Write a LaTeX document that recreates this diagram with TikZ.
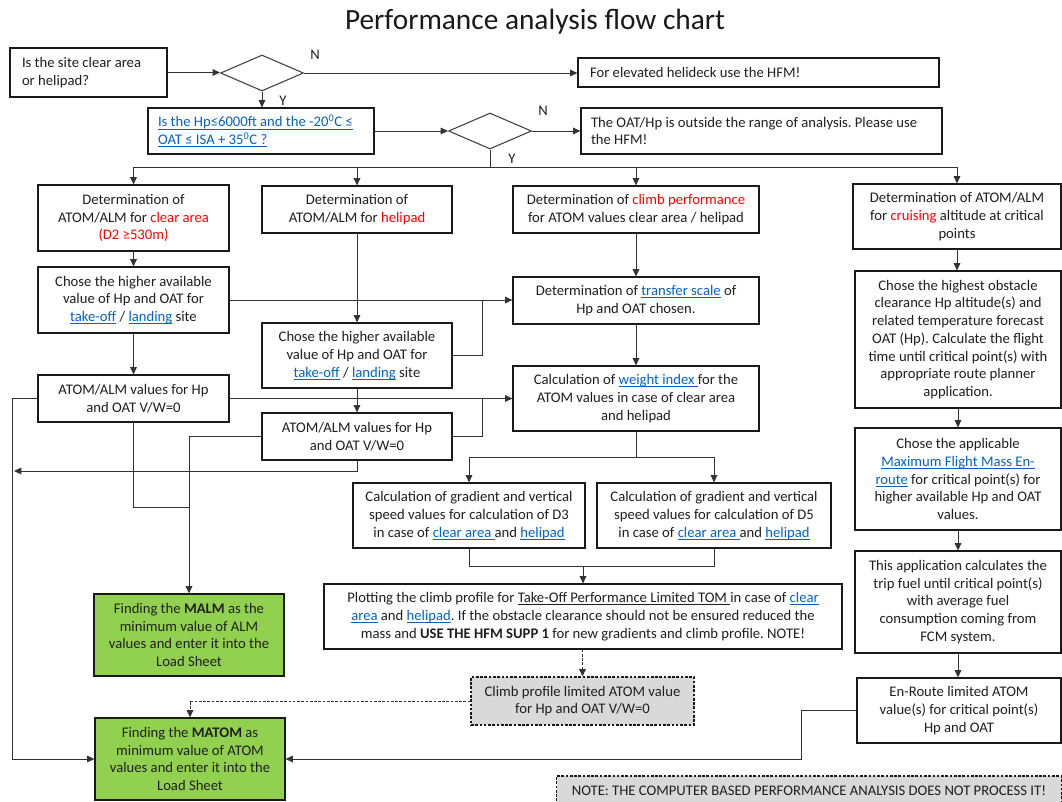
\documentclass[tikz,border=0pt]{standalone}
\usepackage{fontspec}
\setmainfont{Carlito}
\usetikzlibrary{arrows.meta,shapes.geometric}
\definecolor{lnkc}{HTML}{0563C1}
\definecolor{redc}{HTML}{FF0000}
\definecolor{grn}{HTML}{92D050}
\definecolor{gry}{HTML}{D9D9D9}
\newcommand\uln[1]{\setbox0\hbox{#1}\rlap{\rule[-1.7pt]{\wd0}{0.55pt}}\box0}
\newcommand\lnk[1]{\textcolor{lnkc}{\uln{#1}}}
\newcommand\rd[1]{\textcolor{redc}{#1}}
\newcommand\nsp{\spaceskip=0pt\xspaceskip=0pt\relax}
\begin{document}
\frenchspacing
\begin{tikzpicture}[x=0.75pt,y=-0.75pt,
 base/.style={font=\fontsize{11}{13.3}\selectfont, text=black!88},
 bx/.style={base, draw=black!90, line width=0.9pt, fill=white, align=center, inner sep=0pt},
 lbx/.style={bx, align=flush left},
 sz/.style 2 args={minimum width=#1*0.75pt, minimum height=#2*0.75pt},
 ln/.style={draw=black!80, line width=0.75pt},
 arr/.style={ln, -{Triangle[length=5.5pt,width=5pt]}},
 dsh/.style={dash pattern=on 2pt off 1.2pt},
 dia/.style={diamond, draw=black!75, line width=0.8pt, inner sep=0pt, minimum width=83*0.75pt, minimum height=36*0.75pt},
 lab/.style={base, inner sep=0pt},
]
\useasboundingbox (0,0) rectangle (1062,801);
\node[font=\fontsize{22}{26}\selectfont, text=black!90] (title) at (535,22) {Performance analysis flow chart};

\node[lbx, sz={157}{49}, line width=2.2pt, text width=99.75pt] (q1) at (88.5,72.5) {\nsp Is the site clear area\\or helipad?};
\node[dia] (d1) at (262,73) {};
\node[lbx, sz={361}{29}, text width=252.75pt] (elev) at (758.5,72.5) {\nsp For elevated helideck use the HFM!};
\node[lbx, sz={226}{46}, text width=154.5pt] (q2) at (261,131) {\nsp\lnk{Is the Hp≤6000ft and the -20\textsuperscript{0}C ≤}\\\lnk{OAT ≤ ISA + 35\textsuperscript{0}C ?}};
\node[dia] (d2) at (490,131) {};
\node[lbx, sz={361}{46}, text width=255.75pt] (oat) at (761.5,131) {\nsp The OAT/Hp is outside the range of analysis. Please use\\the HFM!};

\node[lab] (n1) at (315,55) {N};
\node[lab] (y1) at (283,101) {Y};
\node[lab] (n2) at (543,111) {N};
\node[lab] (y2) at (512,159) {Y};

\node[bx, sz={191}{66}] (A) at (133.5,218) {Determination of\\ATOM/ALM for \rd{clear area}\\\rd{(D2 ≥530m)}};
\node[bx, sz={191}{66}] (A2) at (133.5,300) {Chose the higher available\\value of Hp and OAT for\\\lnk{take-off} / \lnk{landing} site};
\node[bx, sz={191}{47}] (A3) at (133.5,398.5) {ATOM/ALM values for Hp\\and OAT V/W=0};
\node[bx, sz={190}{47}] (B) at (357,209.5) {Determination of\\ATOM/ALM for \rd{helipad}};
\node[bx, sz={190}{65}] (B2) at (357,355.5) {Chose the higher available\\value of Hp and OAT for\\\lnk{take-off} / \lnk{landing} site};
\node[bx, sz={190}{47}] (B3) at (357,436.5) {ATOM/ALM values for Hp\\and OAT V/W=0};
\node[bx, sz={246}{47}] (C) at (636,209.5) {Determination of \rd{climb performance}\\for ATOM values clear area / helipad};
\node[bx, sz={246}{47}] (C2) at (636,300.5) {Determination of \lnk{transfer scale} of\\Hp and OAT chosen.};
\node[bx, sz={246}{65}] (C3) at (636,398.5) {Calculation of \lnk{weight index }for the\\ATOM values in case of clear area\\and helipad};
\node[bx, sz={208}{65}] (D) at (957,216.5) {Determination of ATOM/ALM\\for \rd{cruising} altitude at critical\\points};
\node[bx, sz={206}{137}] (D2) at (958,339.5) {Chose the highest obstacle\\clearance Hp altitude(s) and\\related temperature forecast\\OAT (Hp). Calculate the flight\\time until critical point(s) with\\appropriate route planner\\application.};
\node[bx, sz={206}{102}] (D3) at (958,479) {Chose the applicable\\\lnk{Maximum Flight Mass En-}\\\lnk{route} for critical point(s) for\\higher available Hp and OAT\\values.};
\node[bx, sz={206}{102}] (D4) at (958,602) {This application calculates the\\trip fuel until critical point(s)\\with average fuel\\consumption coming from\\FCM system.};
\node[bx, sz={204}{65}] (D5) at (959,710.5) {En-Route limited ATOM\\value(s) for critical point(s)\\Hp and OAT};
\node[bx, sz={232}{65}] (E1) at (469,515.5) {Calculation of gradient and vertical\\speed values for calculation of D3\\in case of \lnk{clear area }and \lnk{helipad}};
\node[bx, sz={234}{65}] (E2) at (714,515.5) {Calculation of gradient and vertical\\speed values for calculation of D5\\in case of \lnk{clear area }and \lnk{helipad}};
\node[bx, sz={518}{65}] (F) at (583,616.5) {Plotting the climb profile for \uln{Take-Off Performance Limited TOM }in case of \lnk{clear}\\\lnk{area} and \lnk{helipad}. If the obstacle clearance should not be ensured reduced the\\mass and \textbf{USE THE HFM SUPP 1} for new gradients and climb profile. NOTE!};
\node[bx, sz={223}{48}, fill=gry, dsh] (G) at (582.5,701) {Climb profile limited ATOM value\\for Hp and OAT V/W=0};
\node[bx, sz={190}{82}, fill=grn] (malm) at (189,635) {Finding the \textbf{MALM} as the\\minimum value of ALM\\values and enter it into the\\Load Sheet};
\node[bx, sz={190}{82}, fill=grn] (matom) at (190,759) {Finding the \textbf{MATOM} as\\minimum value of ATOM\\values and enter it into the\\Load Sheet};
\node[bx, sz={505}{30}, fill=gry, dsh] (note) at (809,791) {NOTE: THE COMPUTER BASED PERFORMANCE ANALYSIS DOES NOT PROCESS IT!};

\coordinate (bus) at (0,167);
\coordinate (j1) at (482,0);
\coordinate (lx) at (12,0);
\coordinate (lx3) at (14,0);
\coordinate (k1) at (0,507);
\coordinate (k2) at (0,471);
\coordinate (k3) at (0,457);
\coordinate (k4) at (0,566);
\coordinate (lx2) at (801,0);

\draw[arr] (q1.east) -- (q1.east -| d1.west);
\draw[arr] (d1.east) -- (d1.east -| elev.west);
\draw[arr] (d1.south) -- (d1.south |- q2.north);
\draw[arr] (q2.east) -- (d2.west);
\draw[arr] (d2.east) -- (d2.east -| oat.west);
\draw[ln] (d2.south) -- (d2.south |- bus);
\draw[ln] (A.north |- bus) -- (D.north |- bus);
\foreach \n in {A,B,C,D} \draw[arr] (\n.north |- bus) -- (\n.north);
\draw[arr] (A.south) -- (A2.north);
\draw[arr] (A2.south) -- (A3.north);
\draw[arr] (B.south) -- (B2.north);
\draw[arr] (B2.south) -- (B3.north);
\draw[arr] (C.south) -- (C2.north);
\draw[arr] (C2.south) -- (C3.north);
\draw[arr] (A2.east) -- (A2.east -| C2.west);
\draw[ln] (B2.east) -| (j1 |- A2.east);
\draw[arr] (A3.east) -- (A3.east -| C3.west);
\draw[ln] (B3.east) -| (j1 |- A3.east);
\draw[arr] (A3.west) -| (lx |- matom.west) -- (matom.west);
\draw[ln] (A3.south) |- (k1 -| malm.north);
\draw[arr] (B3.west) -| (malm.north);
\draw[arr] (B3.south) |- (lx3 |- k2);
\draw[ln] (C3.south) -- (C3.south |- k3);
\draw[ln] (E1.north |- k3) -- (E2.north |- k3);
\draw[arr] (E1.north |- k3) -- (E1.north);
\draw[arr] (E2.north |- k3) -- (E2.north);
\draw[ln] (E1.south) -- (E1.south |- k4) -- (E2.south |- k4) -- (E2.south);
\draw[arr] (F.north |- k4) -- (F.north);
\draw[arr, dsh] (G.north |- F.south) -- (G.north);
\draw[arr, dsh] (G.west) -| (matom.north);
\draw[arr] (D.south) -- (D.south |- D2.north);
\draw[arr] (D2.south) -- (D2.south |- D3.north);
\draw[arr] (D3.south) -- (D3.south |- D4.north);
\draw[arr] (D4.south) -- (D4.south |- D5.north);
\draw[arr] (D5.west) -| (lx2 |- matom.east) -- (matom.east);
\end{tikzpicture}
\end{document}
